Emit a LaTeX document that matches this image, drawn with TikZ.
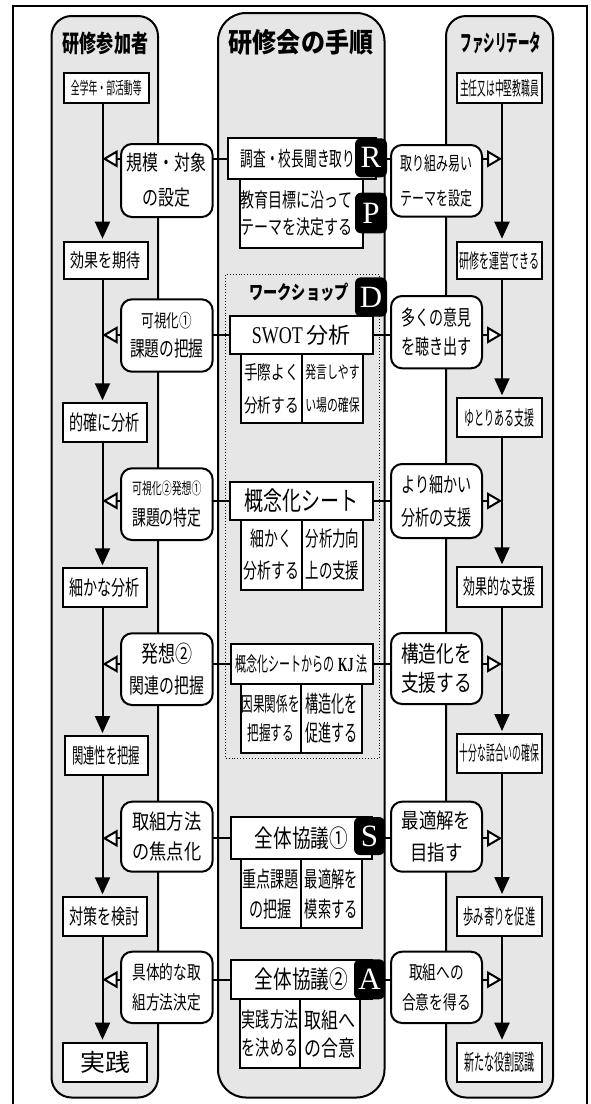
\documentclass[tikz,border=0pt]{standalone}
\usepackage{fontspec}
\setmainfont{Noto Sans CJK JP}
\newfontfamily\lat{Liberation Serif}
\usetikzlibrary{arrows.meta}
\definecolor{lanegray}{RGB}{230,230,230}
\newcommand\tf[3]{\fontsize{#1}{#2}\selectfont\addfontfeatures{FakeStretch=#3}}
\newcommand\mybx[7]{\node[#1, minimum width={#5-#3}, minimum height={#6-#4}] (#2) at ({(#3+#5)/2},{(#4+#6)/2}) {#7};}
\tikzset{
 lane/.style={draw, line width=2pt, fill=lanegray, rounded corners=20pt, inner sep=0pt, outer sep=0pt},
 sq/.style={draw, line width=2pt, fill=white, inner sep=0pt, outer sep=0pt, align=center},
 rbox/.style={sq, rounded corners=11pt},
 tag/.style={fill=black, rounded corners=6pt, text=white, inner sep=0pt, outer sep=0pt, font=\lat\tf{31}{31}{1}},
 conn/.style={line width=2pt},
 down/.style={line width=2pt, shorten >=3pt, -{Triangle[length=17pt,width=15pt]}},
 side/.style={line width=2pt, -{Triangle[length=15pt,width=17pt,fill=white]}},
}
\begin{document}
\begin{tikzpicture}[x=1pt,y=-1pt]
\useasboundingbox (0,0) rectangle (590,1104);
\draw[line width=2pt] (13.3,5.7) rectangle (586.7,1115);
% lanes
\mybx{lane}{laneL}{51.5}{16}{158}{1097.5}{}
\mybx{lane, rounded corners=28pt}{laneC}{218}{13}{384.5}{1097.5}{}
\mybx{lane}{laneR}{446}{16}{553}{1097.5}{}
% titles
\node[font=\bfseries\tf{24}{24}{0.71}] (ttlL) at (105.5,43) {研修参加者};
\node[font=\bfseries\tf{27}{27}{0.89}] (ttlC) at (301,42) {研修会の手順};
\node[font=\bfseries\tf{23}{23}{0.5}] (ttlR) at (501,43) {ファシリテータ};
% workshop frame
\mybx{draw, dotted, line width=0.9pt}{ws}{225.7}{274}{379}{758.3}{}
\node[font=\bfseries\tf{19}{19}{0.75}] (wsl) at (299,292) {ワークショップ};
% left column
\mybx{sq,font=\tf{17}{17}{0.52}}{pL0}{64}{72.7}{148.6}{103.3}{全学年・部活動等}
\mybx{sq,font=\tf{19}{19}{0.74}}{pL1}{64}{241.7}{147.5}{279.3}{効果を期待}
\mybx{sq,font=\tf{21}{21}{0.67}}{pL2}{63}{403.3}{146.7}{441.7}{的確に分析}
\mybx{sq,font=\tf{21}{21}{0.67}}{pL3}{63}{568.3}{146.7}{607.3}{細かな分析}
\mybx{sq,font=\tf{21}{21}{0.54}}{pL4}{64.7}{736}{147.5}{775}{関連性を把握}
\mybx{sq,font=\tf{21}{21}{0.67}}{pL5}{63}{897.3}{146.7}{936}{対策を検討}
\mybx{sq,font=\tf{24}{24}{1.04}}{pL6}{63}{1042.7}{147}{1081.7}{実践}
% right column
\mybx{sq,font=\tf{19}{19}{0.46}}{fR0}{457}{72.7}{542}{103.3}{主任又は中堅教職員}
\mybx{sq,font=\tf{20}{20}{0.5}}{fR1}{457}{241.7}{542}{279.3}{研修を運営できる}
\mybx{sq,font=\tf{20}{20}{0.5}}{fR2}{457}{398.3}{542}{436.7}{ゆとりある支援}
\mybx{sq,font=\tf{21}{21}{0.57}}{fR3}{457}{567.3}{542}{606.7}{効果的な支援}
\mybx{sq,font=\tf{20}{20}{0.44}}{fR4}{457}{734}{542}{772.7}{十分な話合いの確保}
\mybx{sq,font=\tf{21}{21}{0.49}}{fR5}{457}{897}{542}{936}{歩み寄りを促進}
\mybx{sq,font=\tf{22}{22}{0.46}}{fR6}{457}{1042.7}{542}{1081.7}{新たな役割認識}
% rounded left
\mybx{rbox,font=\tf{21}{35}{0.76}}{rL1}{121}{144}{212.6}{217}{規模・対象\\の設定}
\mybx{rbox,font=\tf{21}{29}{0.7}}{rL2}{121}{299.3}{212.6}{371.7}{{\tf{18}{29}{0.7}可視化①}\\課題の把握}
\mybx{rbox,font=\tf{21}{31}{0.66}}{rL3}{121}{468.3}{212.6}{540}{{\tf{16}{31}{0.62}可視化②発想①}\\課題の特定}
\mybx{rbox,font=\tf{21}{31}{0.71}}{rL4}{121}{633.3}{212.6}{705}{{\tf{23}{31}{0.74}発想②}\\関連の把握}
\mybx{rbox,font=\tf{21}{30}{0.82}}{rL5}{121}{801.7}{212.6}{871.7}{取組方法\\の焦点化}
\mybx{rbox,font=\tf{19}{30}{0.72}}{rL6}{121}{951.7}{212.6}{1023}{具体的な取\\組方法決定}
% rounded right
\mybx{rbox,font=\tf{19}{35}{0.63}}{rR1}{391}{145}{482}{216.7}{取り組み易い\\テーマを設定}
\mybx{rbox,font=\tf{21}{29}{0.67}}{rR2}{391}{296}{482}{368.3}{多くの意見\\を聴き出す}
\mybx{rbox,font=\tf{21}{33}{0.67}}{rR3}{391}{464}{482}{538}{より細かい\\分析の支援}
\mybx{rbox,font=\tf{23}{29}{0.77}}{rR4}{391}{633}{482}{704}{構造化を\\支援する}
\mybx{rbox,font=\tf{21}{32}{0.83}}{rR5}{391}{801.7}{482}{871.7}{最適解を\\目指す}
\mybx{rbox,font=\tf{19}{30}{0.72}}{rR6}{391}{951.7}{482}{1023}{取組への\\合意を得る}
% center column
\mybx{sq,font=\tf{20.5}{20.5}{0.62}}{c1a}{228}{138.3}{376}{179.3}{調査・校長聞き取り\kern8pt}
\mybx{sq,font=\tf{20}{27}{0.7}}{c1b}{240}{179.3}{363}{248.3}{教育目標に沿って\kern10pt\\テーマを決定する\kern10pt}
\mybx{sq,font=\tf{22}{22}{1}}{sw}{230}{316}{372.5}{354}{{\lat\tf{24}{24}{0.75}SWOT}\,分析}
\mybx{sq,font=\tf{19}{33}{0.72}}{s2a}{241}{354}{302}{423.3}{手際よく\\分析する}
\mybx{sq,font=\tf{17}{33}{0.64}}{s2b}{302}{354}{363}{423.3}{発言しやす\\い場の確保}
\mybx{sq,font=\tf{26}{26}{0.73}}{gn}{230}{481.7}{372.5}{520}{概念化シート}
\mybx{sq,font=\tf{21}{32}{0.66}}{s3a}{241}{520}{302}{590}{細かく\\分析する}
\mybx{sq,font=\tf{21}{32}{0.64}}{s3b}{302}{520}{363}{590}{分析力向\\上の支援}
\mybx{sq,font=\tf{20}{20}{0.55}}{kj}{231}{644}{372.7}{684}{概念化シートからの\,{\lat\bfseries\tf{20}{20}{0.6}KJ}\,法}
\mybx{sq,font=\tf{20}{29}{0.58}}{s4a}{240.7}{684}{300.7}{752.7}{因果関係を\\把握する}
\mybx{sq,font=\tf{23}{29}{0.57}}{s4b}{300.7}{684}{362.3}{752.7}{構造化を\\促進する}
\mybx{sq,font=\tf{24.5}{24.5}{0.76}}{z1}{231}{817.3}{371.7}{859.3}{全体協議①}
\mybx{sq,font=\tf{22}{30}{0.64}}{s5a}{240.7}{859.3}{300.7}{928.3}{重点課題\\の把握}
\mybx{sq,font=\tf{22}{30}{0.6}}{s5b}{300.7}{859.3}{361.7}{928.3}{最適解を\\模索する}
\mybx{sq,font=\tf{24.5}{24.5}{0.76}}{z2}{231}{960}{371.7}{999.3}{全体協議②}
\mybx{sq,font=\tf{21}{28}{0.67}}{s6a}{240}{999.3}{300}{1068.3}{実践方法\\を決める}
\mybx{sq,font=\tf{22}{28}{0.77}}{s6b}{300}{999.3}{360}{1068.3}{取組へ\\の合意}
% tags
\mybx{tag}{tR}{355}{138.3}{387}{177.3}{R}
\mybx{tag}{tP}{355}{192.7}{387}{233.3}{P}
\mybx{tag}{tD}{355}{277.3}{387}{316.7}{D}
\mybx{tag}{tS}{354}{817}{385}{855}{S}
\mybx{tag}{tA}{354}{959.3}{385}{999.3}{A}
% vertical flows
\coordinate (lxL) at (102.5,0);
\coordinate (lxR) at (502,0);
\foreach \mA/\mB in {pL0/pL1,pL1/pL2,pL2/pL3,pL3/pL4,pL4/pL5,pL5/pL6}
  \draw[down] (\mA.south -| lxL) -- (\mB.north -| lxL);
\foreach \mA/\mB in {fR0/fR1,fR1/fR2,fR2/fR3,fR3/fR4,fR4/fR5,fR5/fR6}
  \draw[down] (\mA.south -| lxR) -- (\mB.north -| lxR);
% horizontal rows
\foreach \mC/\mL/\mR/\mE in {c1a/rL1/rR1/tR, sw/rL2/rR2/sw, gn/rL3/rR3/gn, kj/rL4/rR4/kj, z1/rL5/rR5/tS, z2/rL6/rR6/tA} {
  \draw[conn] (\mC.west) -- (\mL.east |- \mC.west);
  \draw[side] (\mL.west |- \mC.west) -- (lxL |- \mC.west);
  \draw[conn] (\mE.east |- \mC.east) -- (\mR.west |- \mC.east);
  \draw[side] (\mR.east |- \mC.east) -- (lxR |- \mC.east);
}
\end{tikzpicture}
\end{document}
